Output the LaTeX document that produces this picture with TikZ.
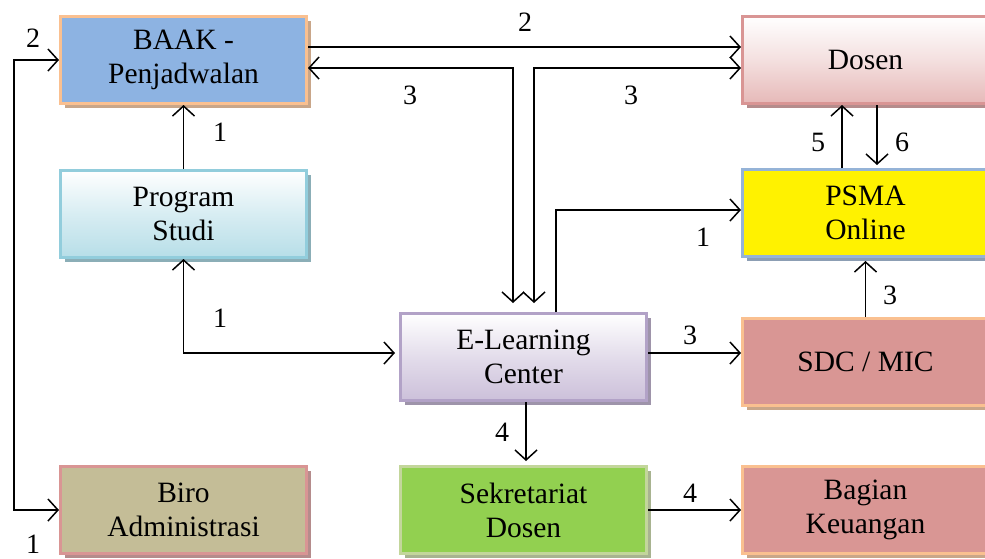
\documentclass[tikz,border=0pt]{standalone}
\usepackage{fontspec}
\setmainfont{Liberation Serif}
\usetikzlibrary{arrows.meta,shadows}
\definecolor{baakfill}{HTML}{8DB3E2}
\definecolor{orangeline}{HTML}{FAC090}
\definecolor{pinkfill}{HTML}{E6B9B8}
\definecolor{pinkline}{HTML}{D99594}
\definecolor{bluefill}{HTML}{B7DEE8}
\definecolor{blueline}{HTML}{92CDDC}
\definecolor{psmaline}{HTML}{95B3D7}
\definecolor{lavfill}{HTML}{CCC0DA}
\definecolor{lavline}{HTML}{B2A2C7}
\definecolor{rosefill}{HTML}{D99694}
\definecolor{birofill}{HTML}{C4BD97}
\definecolor{greenfill}{HTML}{92D050}
\definecolor{greenline}{HTML}{C3D69B}
\begin{document}
\begin{tikzpicture}[x=1pt,y=-1pt,
  box/.style={rectangle, minimum width=246pt, minimum height=87pt, line width=3pt,
    align=center, inner sep=0pt, font=\fontsize{29.5}{34}\selectfont},
  shad/.style={drop shadow={shadow xshift=4pt, shadow yshift=-4pt, opacity=1, fill=#1}},
  conn/.style={line width=1.5pt, >={Straight Barb[length=10pt,width=22pt]}},
  lab/.style={inner sep=0pt, font=\fontsize{28}{30}\selectfont}]
\clip (0,0) rectangle (985,558);
\fill[white] (0,0) rectangle (985,558);
% boxes
\node[box, shad=orangeline!60!gray, fill=baakfill, draw=orangeline] (baak) at (183.5,60) {BAAK -\\Penjadwalan};
\node[box, shad=pinkline!60!gray, top color=white, bottom color=pinkfill, middle color=pinkfill!45, draw=pinkline] (dosen) at (865.5,60) {Dosen};
\node[box, shad=blueline!60!gray, top color=white, bottom color=bluefill, middle color=bluefill!55, draw=blueline] (prodi) at (183.5,214) {Program\\Studi};
\node[box, shad=psmaline!60!gray, fill=yellow, draw=psmaline] (psma) at (865.5,213) {PSMA\\Online};
\node[box, shad=lavline!60!gray, top color=white, bottom color=lavfill, middle color=lavfill!55, draw=lavline] (elc) at (523.5,357) {E-Learning\\Center};
\node[box, shad=orangeline!60!gray, fill=rosefill, draw=orangeline] (sdc) at (865.5,362) {SDC / MIC};
\node[box, shad=pinkline!60!gray, fill=birofill, draw=pinkline] (biro) at (183.5,510) {Biro\\Administrasi};
\node[box, shad=greenline!60!gray, fill=greenfill, draw=greenline] (sek) at (523.5,510) {Sekretariat\\Dosen};
\node[box, shad=orangeline!60!gray, fill=rosefill, draw=orangeline] (keu) at (865.5,510) {Bagian\\Keuangan};
% connectors
\draw[conn,<->] (baak.west) -- ++(-45,0) |- (biro.west);
\draw[conn,->] (prodi.north) -- (baak.south);
\draw[conn,->] (baak.east |- 0,47) -- (dosen.west |- 0,47);
\draw[conn,<->] (baak.east |- 0,68) -| ([yshift=9pt]elc.north -| 513,0);
\draw[conn,<->] (dosen.west |- 0,68) -| ([yshift=9pt]elc.north -| 534,0);
\draw[conn,->] (elc.north -| 556,0) |- (psma.west |- 0,210);
\draw[conn,->] (psma.north -| 842,0) -- (dosen.south -| 842,0);
\draw[conn,->] (dosen.south -| 877,0) -- ([yshift=3pt]psma.north -| 877,0);
\draw[conn,->] (sdc.north) -- ([yshift=-3pt]psma.south);
\draw[conn,->] (elc.east |- 0,353) -- (sdc.west |- 0,353);
\draw[conn,<->] ([xshift=-4pt]elc.west |- 0,353) -| (prodi.south);
\draw[conn,->] (elc.south -| 526,0) -- ([yshift=4pt]sek.north -| 526,0);
\draw[conn,->] (sek.east) -- (keu.west);
% labels
\node[lab] (l2a) at (33,38) {2};
\node[lab] (l1a) at (33,544) {1};
\node[lab] (l1b) at (220,132) {1};
\node[lab] (l1c) at (220,318) {1};
\node[lab] (l2b) at (525,22) {2};
\node[lab] (l3a) at (410,95) {3};
\node[lab] (l3b) at (631,95) {3};
\node[lab] (l1d) at (703,237) {1};
\node[lab] (l5) at (818,142) {5};
\node[lab] (l6) at (902,142) {6};
\node[lab] (l3c) at (890,295) {3};
\node[lab] (l3d) at (690,335) {3};
\node[lab] (l4a) at (502,432) {4};
\node[lab] (l4b) at (690,493) {4};
\end{tikzpicture}
\end{document}
